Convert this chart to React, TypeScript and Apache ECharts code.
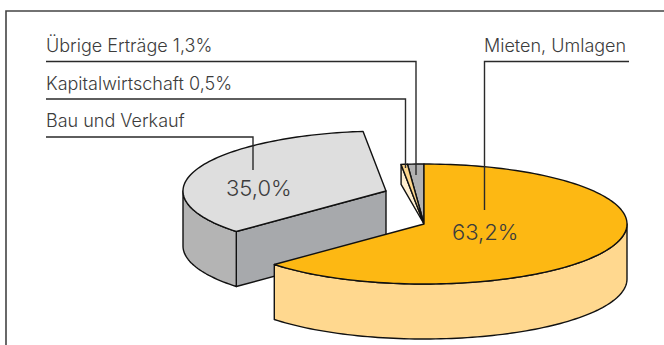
import React, { useEffect, useRef } from "react";
import * as echarts from "echarts";

// Revenue shares, clockwise from twelve o'clock
const categories = ["Mieten, Umlagen", "Bau und Verkauf", "Kapitalwirtschaft", "Übrige Erträge"];
const shares = [63.2, 35.0, 0.5, 1.3];
const topColors = ["#FDB813", "#DEDEDE", "#FDD68C", "#B1B1B1"];

const WIDTH = 664;
const HEIGHT = 345;
const CX = 424;
const CY = 224;
const RX = 203;
const RY = 60;
const DEPTH = 55;
const INK = "#111111";
const TEXT = "#3c3c3c";
const FONT = "Inter";

const fmt = (v: number) => v.toFixed(1).replace(".", ",");

const total = shares.reduce((a, b) => a + b, 0);
const starts: number[] = [];
shares.reduce((acc, v, i) => {
  starts[i] = acc;
  return acc + (v / total) * 360;
}, 0);

// Point on the rim; degrees run clockwise from the top of the ellipse
const rim = (deg: number, ox: number, oy: number): number[] => {
  const a = (deg * Math.PI) / 180;
  return [CX + ox + RX * Math.sin(a), CY + oy - RY * Math.cos(a)];
};

const arc = (from: number, to: number, ox: number, oy: number): number[][] => {
  const pts: number[][] = [];
  const n = Math.max(2, Math.ceil(Math.abs(to - from) / 1.5));
  for (let i = 0; i <= n; i++) pts.push(rim(from + ((to - from) * i) / n, ox, oy));
  return pts;
};

const poly = (points: number[][], fill: string, sw = 1.4) => ({
  type: "polygon",
  shape: { points },
  style: { fill, stroke: INK, lineWidth: sw, lineJoin: "round" },
});

// Extruded wall below a run of rim points
const wall = (top: number[][], fill: string) =>
  poly([...top, ...top.slice().reverse().map(([x, y]) => [x, y + DEPTH])], fill);

const renderSlice = (params: any, api: any) => {
  const i = shares.length - 1 - params.dataIndex;
  const from = starts[i];
  const to = from + (shares[i] / total) * 360;
  const children: any[] = [];

  if (i === 0) {
    children.push(wall(arc(90, to, 0, 0), "#FFD88F"));
    children.push(poly([[CX, CY], ...arc(from, to, 0, 0)], topColors[i]));
  } else if (i === 1) {
    // Pulled-out slice with its cut face and outer wall
    const ox = -38;
    const oy = -33;
    const apex = [CX + ox, CY + oy];
    const start = rim(from, ox, oy);
    children.push(wall([apex, start], "#A7A9AC"));
    children.push(wall(arc(from, 270, ox, oy), "#B4B4B4"));
    children.push(poly([apex, ...arc(from, to, ox, oy)], topColors[i]));
  } else if (i === 2) {
    const p = rim(from, 0, 0);
    children.push(poly([p, [p[0], p[1] + 20], [CX, CY]], "#FFEFD0"));
    children.push(poly([[CX, CY], ...arc(from, to, 0, 0)], topColors[i]));
  } else {
    children.push(poly([[CX, CY], ...arc(from, to, 0, 0)], topColors[i]));
  }
  return { type: "group", children };
};

const leader = (points: number[][]) => ({
  type: "polyline",
  shape: { points },
  style: { fill: "none", stroke: "#2a2a2a", lineWidth: 1.4 },
  z: 5,
});

const label = (text: string, x: number, y: number, fontSize: number) => ({
  type: "text",
  x,
  y,
  style: { text, fontFamily: FONT, fontWeight: 300, fontSize, fill: TEXT, verticalAlign: "middle" },
  z: 6,
});

export default function App() {
  const ref = useRef<HTMLDivElement>(null);
  useEffect(() => {
    if (!ref.current) return;
    const chart = echarts.init(ref.current, null, { renderer: "svg" });
    chart.setOption({
      animation: false,
      backgroundColor: "#ffffff",
      graphic: [
        // Frame is open towards the right and bottom page edges
        {
          type: "polyline",
          shape: { points: [[6, 345], [6, 11], [664, 11]] },
          style: { fill: "none", stroke: "#444444", lineWidth: 1.6 },
          z: 1,
        },
        leader([[46, 61.5], [416, 61.5], [416, 175]]),
        leader([[46, 99], [405.5, 99], [405.5, 168]]),
        leader([[46, 137], [253, 137], [253, 170]]),
        leader([[629, 61.5], [484.5, 61.5], [484.5, 210]]),
        label(`${categories[3]} ${fmt(shares[3])}%`, 46, 45, 18),
        label(`${categories[2]} ${fmt(shares[2])}%`, 46, 83, 18),
        label(categories[1], 46, 120.5, 18),
        label(categories[0], 484, 45, 18),
        label(`${fmt(shares[1])}%`, 226, 188, 22),
        label(`${fmt(shares[0])}%`, 452, 232, 22),
      ],
      series: [
        {
          type: "custom",
          coordinateSystem: "none",
          silent: true,
          data: shares.slice().reverse(),
          renderItem: renderSlice,
          z: 3,
        },
      ],
    });
    return () => chart.dispose();
  }, []);
  return <div ref={ref} style={{ position: "fixed", left: 0, top: 0, width: WIDTH, height: HEIGHT }} />;
}
